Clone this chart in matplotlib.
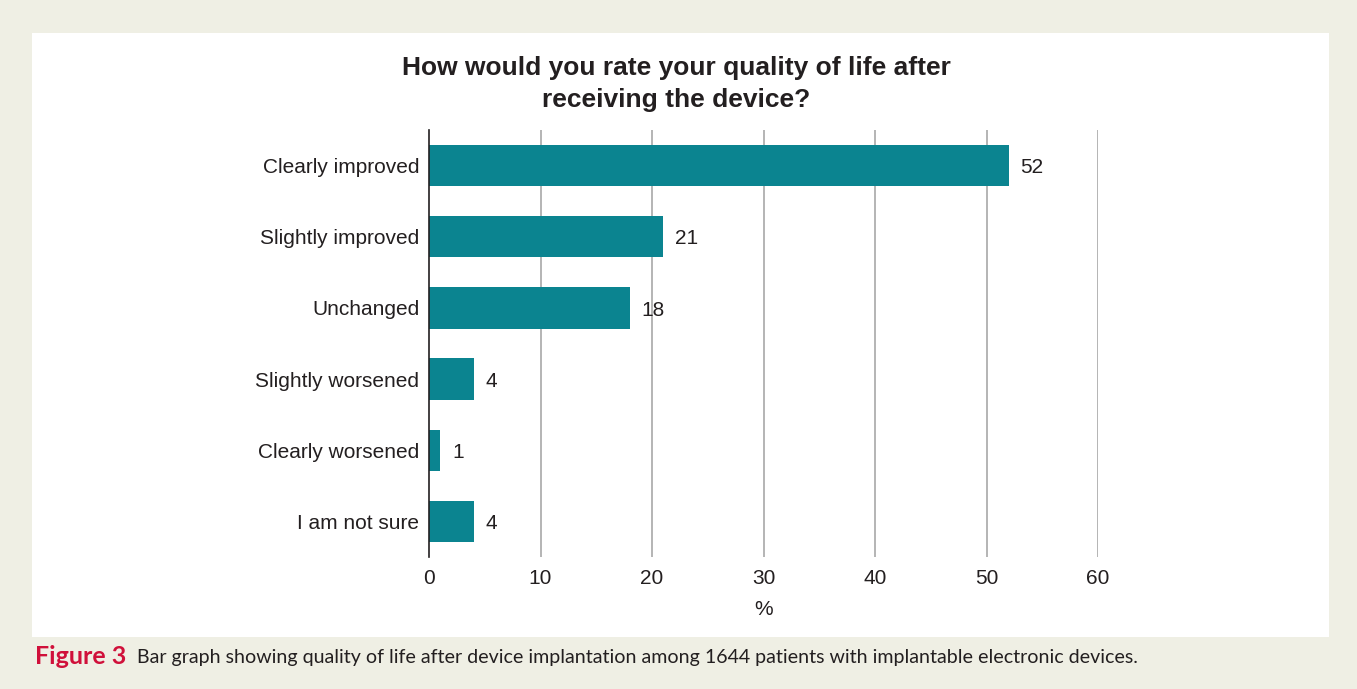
import matplotlib
matplotlib.use("Agg")
import matplotlib.pyplot as plt
from matplotlib.patches import Rectangle

# Survey answers and share of patients (%)
categorias = ["Clearly improved", "Slightly improved", "Unchanged",
              "Slightly worsened", "Clearly worsened", "I am not sure"]
valores = [52, 21, 18, 4, 1, 4]
ticks_x = [0, 10, 20, 30, 40, 50, 60]

titulo = "How would you rate your quality of life after\nreceiving the device?"
legenda_fig = "Figure 3"
legenda_txt = ("Bar graph showing quality of life after device implantation among "
               "1644 patients with implantable electronic devices.")

cor_barra = "#0b8490"
cor_texto = "#231f20"
cor_fundo = "#efefe4"

W, H = 1357, 689
fig = plt.figure(figsize=(W / 100, H / 100), dpi=100)
fig.patch.set_facecolor(cor_fundo)

# Painel branco atras do grafico
fig.patches.append(Rectangle((32 / W, 1 - 637 / H), (1329 - 32) / W, (637 - 33) / H,
                             transform=fig.transFigure, facecolor="white",
                             edgecolor="none", zorder=-10))

ax = fig.add_axes([429 / W, 1 - 557 / H, (1098 - 429) / W, (557 - 130) / H])
ax.set_facecolor("none")

fonte = "Liberation Sans"
tam = 15
pos = list(range(len(categorias)))
ax.barh(pos, valores, height=0.58, color=cor_barra, zorder=3)
for p, v in zip(pos, valores):
    ax.annotate(str(v), (v, p), xytext=(8.5, -1.5), textcoords="offset points",
                va="center", ha="left", fontsize=tam, color=cor_texto, family=fonte)

ax.set_xlim(0, 60)
ax.set_ylim(len(categorias) - 0.5, -0.5)
ax.set_xticks(ticks_x)
ax.set_xticklabels([str(t) for t in ticks_x], family=fonte, fontsize=tam, color=cor_texto)
ax.set_yticks(pos)
ax.set_yticklabels(categorias, family=fonte, fontsize=tam, color=cor_texto)
ax.tick_params(axis="x", length=0, pad=8.5)
ax.tick_params(axis="y", length=0, pad=7)

for t in ticks_x[1:]:
    ax.axvline(t, color="#b4b4b4", lw=1.4, zorder=1)

for lado in ["top", "right", "bottom"]:
    ax.spines[lado].set_visible(False)
ax.spines["left"].set_color("#231f20")
ax.spines["left"].set_linewidth(1.2)
ax.spines["left"].set_zorder(4)

ax.set_xlabel("%", family=fonte, fontsize=tam, color=cor_texto, labelpad=9)

fig.text(676 / W, 1 - 84 / H, titulo, ha="center", va="center", fontsize=19,
         fontweight="bold", family=fonte, color=cor_texto, linespacing=1.45)

# Legenda da figura: "Figure 3" em vermelho e o resto normal
fig.text(35 / W, 1 - 657 / H, legenda_fig, ha="left", va="center", fontsize=18,
         fontweight="bold", family="Lato", color="#d0103a")
fig.text(137 / W, 1 - 657 / H, legenda_txt, ha="left", va="center",
         fontsize=14.1, family="Lato", color=cor_texto)

fig.savefig("out.png", dpi=100, facecolor=cor_fundo)
